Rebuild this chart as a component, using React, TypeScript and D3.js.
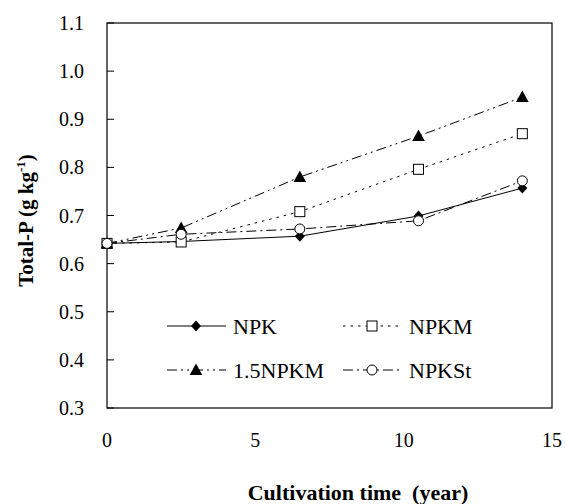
import React from 'react';
import * as d3 from 'd3';

// cultivation time (year)
const years = [0, 2.5, 6.5, 10.5, 14];
// Total-P (g kg-1) per treatment
const npk = [0.642, 0.646, 0.657, 0.699, 0.757];
const npkm = [0.642, 0.645, 0.708, 0.796, 0.87];
const npkm15 = [0.642, 0.674, 0.78, 0.865, 0.946];
const npkst = [0.642, 0.661, 0.672, 0.689, 0.772];

const seriesNames = ['NPK', 'NPKM', '1.5NPKM', 'NPKSt'];
const yTicks = [0.3, 0.4, 0.5, 0.6, 0.7, 0.8, 0.9, 1.0, 1.1];
const xTicks = [0, 5, 10, 15];

const W = 565, H = 504;
const margin = { top: 23, right: 13, bottom: 96, left: 107 };
const font = 'Liberation Serif';

const styles: Record<string, { dash: string; marker: string }> = {
  NPK: { dash: 'none', marker: 'diamond' },
  NPKM: { dash: '2.5,5', marker: 'square' },
  '1.5NPKM': { dash: '10,4,2,4,2,4', marker: 'triangle' },
  NPKSt: { dash: '10,4,2,4', marker: 'circle' },
};

function Marker({ type, x, y }: { type: string; x: number; y: number }) {
  if (type === 'diamond') {
    return <path d={`M${x},${y - 5.5}L${x + 5},${y}L${x},${y + 5.5}L${x - 5},${y}Z`} fill="black" />;
  }
  if (type === 'square') {
    return <rect x={x - 5} y={y - 5} width={10} height={10} fill="white" stroke="black" strokeWidth={1} />;
  }
  if (type === 'triangle') {
    return <path d={`M${x},${y - 6.5}L${x + 6.3},${y + 5}L${x - 6.3},${y + 5}Z`} fill="black" />;
  }
  return <circle cx={x} cy={y} r={5} fill="white" stroke="black" strokeWidth={1} />;
}

export default function App() {
  const w = W - margin.left - margin.right;
  const h = H - margin.top - margin.bottom;
  const x = d3.scaleLinear().domain([0, 15]).range([margin.left, margin.left + w]);
  const y = d3.scaleLinear().domain([0.3, 1.1]).range([margin.top + h, margin.top]);

  const data: Record<string, number[]> = {
    NPK: npk,
    NPKM: npkm,
    '1.5NPKM': npkm15,
    NPKSt: npkst,
  };

  const line = d3
    .line<number>()
    .x((_, i) => x(years[i]))
    .y((d) => y(d));

  // legend layout
  const legendRows = [326, 370];
  const legendCols = [167, 343];

  return (
    <svg width={W} height={H} style={{ position: 'absolute', left: 0, top: 0, background: 'white', fontFamily: font }}>
      <rect x={0} y={0} width={W} height={H} fill="white" />
      {/* frame */}
      <rect x={margin.left} y={margin.top} width={w} height={h} fill="none" stroke="black" strokeWidth={1.2} />
      {/* y ticks */}
      {yTicks.map((t) => (
        <g key={t}>
          <line x1={margin.left} x2={margin.left + 7} y1={y(t)} y2={y(t)} stroke="black" strokeWidth={1} />
          <text x={84} y={y(t)} dy="0.35em" textAnchor="end" fontSize={20} style={{ fontFamily: font }}>
            {d3.format('.1f')(t)}
          </text>
        </g>
      ))}
      {xTicks.map((t) => (
        <text key={t} x={x(t)} y={447} textAnchor="middle" fontSize={20} style={{ fontFamily: font }}>
          {t}
        </text>
      ))}
      {/* series */}
      {seriesNames.map((name) => (
        <path key={name} d={line(data[name]) || ''} fill="none" stroke="black" strokeWidth={1} strokeDasharray={styles[name].dash} />
      ))}
      {seriesNames.map((name) =>
        data[name].map((v, i) => <Marker key={name + i} type={styles[name].marker} x={x(years[i])} y={y(v)} />)
      )}
      {/* legend */}
      {seriesNames.map((name, i) => {
        const lx = legendCols[i % 2];
        const ly = legendRows[Math.floor(i / 2)];
        return (
          <g key={name}>
            <line x1={lx} x2={lx + 59} y1={ly} y2={ly} stroke="black" strokeWidth={1} strokeDasharray={styles[name].dash} />
            <Marker type={styles[name].marker} x={lx + 29} y={ly} />
            <text x={lx + 66} y={ly} dy="0.35em" fontSize={22} style={{ fontFamily: font }}>
              {name}
            </text>
          </g>
        );
      })}
      {/* axis titles */}
      <text
        transform={`translate(33,220.5) rotate(-90)`}
        textAnchor="middle"
        fontSize={21}
        fontWeight="bold"
        style={{ fontFamily: font }}
      >
        Total-P (g kg
        <tspan dy={-8} fontSize={13}>-1</tspan>
        <tspan dy={8}>)</tspan>
      </text>
      <text x={358} y={500} textAnchor="middle" fontSize={22} fontWeight="bold" style={{ fontFamily: font, whiteSpace: 'pre' }}>
        {'Cultivation time  (year)'}
      </text>
    </svg>
  );
}
